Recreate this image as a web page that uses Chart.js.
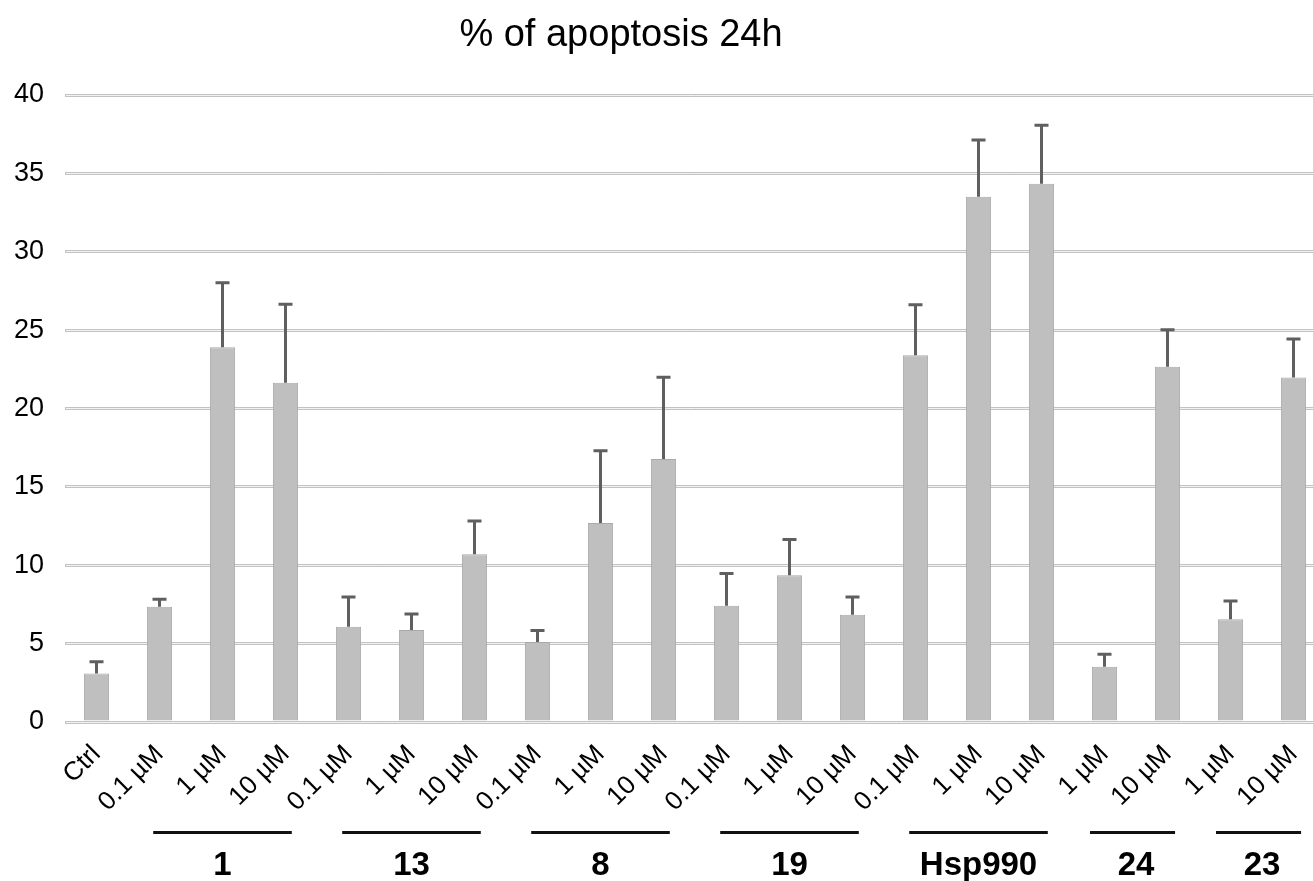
<!DOCTYPE html>
<html><head><meta charset="utf-8">
<script src="https://cdn.jsdelivr.net/npm/chart.js@4/dist/chart.umd.min.js"></script>
<style>
html,body{margin:0;padding:0;background:#fff;overflow:hidden;width:1313px;height:881px}
#wrap{position:absolute;left:0;top:0;width:1340px;height:881px}
</style>
</head><body><div id="wrap"><canvas id="c" width="1340" height="881"></canvas></div>
<script>
const chartTitle = '% of apoptosis 24h';
const categories = ['Ctrl',
  '0.1 µM', '1 µM', '10 µM',
  '0.1 µM', '1 µM', '10 µM',
  '0.1 µM', '1 µM', '10 µM',
  '0.1 µM', '1 µM', '10 µM',
  '0.1 µM', '1 µM', '10 µM',
  '1 µM', '10 µM',
  '1 µM', '10 µM'];
const meanValues = [3.1,
  7.36, 23.9, 21.65,
  6.08, 5.87, 10.7,
  5.1, 12.7, 16.78,
  7.42, 9.36, 6.85,
  23.39, 33.51, 34.34,
  3.53, 22.67,
  6.55, 21.97];
const errorValues = [0.75,
  0.47, 4.13, 5.0,
  1.89, 1.02, 2.12,
  0.73, 4.61, 5.22,
  2.06, 2.29, 1.12,
  3.23, 3.62, 3.73,
  0.79, 2.36,
  1.17, 2.46];
const groupNames = ['1', '13', '8', '19', 'Hsp990', '24', '23'];
const groupSizes = [3, 3, 3, 3, 3, 2, 2];
const yMin = 0, yMax = 40, yStep = 5;

const FONT = "'Liberation Sans', Arial, sans-serif";
Chart.defaults.font.family = FONT;
Chart.defaults.color = '#000';

const gridInner = {
  id: 'gridInner',
  beforeDatasetsDraw(chart) {
    const {ctx, chartArea: a, scales: {y}} = chart;
    ctx.save();
    ctx.strokeStyle = '#f2f2f2';
    ctx.lineWidth = 1;
    y.ticks.forEach(t => {
      const p = Math.round(y.getPixelForValue(t.value) - 1.5) + 1.5;
      ctx.beginPath();
      ctx.moveTo(a.left + 1, p);
      ctx.lineTo(a.right, p);
      ctx.stroke();
    });
    ctx.restore();
  }
};

const errorBars = {
  id: 'errorBars',
  afterDatasetsDraw(chart) {
    const {ctx, scales: {y}} = chart;
    const meta = chart.getDatasetMeta(0);
    ctx.save();
    ctx.strokeStyle = '#5f5f5f';
    ctx.lineWidth = 3;
    meta.data.forEach((bar, i) => {
      const x = bar.x;
      const y0 = y.getPixelForValue(meanValues[i]);
      const y1 = y.getPixelForValue(meanValues[i] + errorValues[i]);
      ctx.beginPath();
      ctx.moveTo(x, y0);
      ctx.lineTo(x, y1);
      ctx.moveTo(x - 7, y1);
      ctx.lineTo(x + 7, y1);
      ctx.stroke();
    });
    ctx.restore();
  }
};

const groupsAndTitle = {
  id: 'groupsAndTitle',
  afterDraw(chart) {
    const {ctx, scales: {x}} = chart;
    const cw = x.getPixelForValue(1) - x.getPixelForValue(0);
    ctx.save();
    ctx.fillStyle = '#000';
    ctx.font = '38px ' + FONT;
    ctx.textAlign = 'center';
    ctx.textBaseline = 'middle';
    ctx.fillText(chartTitle, 621, 36);

    let idx = 1;
    ctx.strokeStyle = '#111';
    ctx.lineWidth = 3;
    ctx.font = 'bold 33px ' + FONT;
    groupNames.forEach((name, g) => {
      const n = groupSizes[g];
      const x0 = x.getPixelForValue(idx);
      const x1 = x.getPixelForValue(idx + n - 1);
      const mid = (x0 + x1) / 2;
      const left = x0 - (n === 2 ? 0.23 : 0.1) * cw;
      const right = x1 + (n === 2 ? 0.12 : 0.1) * cw;
      ctx.beginPath();
      ctx.moveTo(left, 832.5);
      ctx.lineTo(right, 832.5);
      ctx.stroke();
      ctx.fillText(name, mid, 866);
      idx += n;
    });
    ctx.restore();
  }
};

new Chart(document.getElementById('c'), {
  type: 'bar',
  data: {
    labels: categories,
    datasets: [{
      data: meanValues,
      backgroundColor: '#bfbfbf',
      borderColor: '#a9a9a9',
      borderWidth: 1,
      barPercentage: 0.4,
      categoryPercentage: 1
    }]
  },
  options: {
    responsive: false,
    animation: false,
    devicePixelRatio: 1,
    layout: {padding: {top: 95, right: 15, left: 0, bottom: 0}},
    plugins: {legend: {display: false}, title: {display: false}, tooltip: {enabled: false}},
    scales: {
      x: {
        grid: {display: false, drawTicks: false},
        border: {display: false},
        ticks: {font: {size: 26}, color: '#000', minRotation: 45, maxRotation: 45, autoSkip: false, padding: 17},
        afterFit(s) { s.height = 159; }
      },
      y: {
        min: yMin, max: yMax,
        grid: {color: '#c3c3c3', lineWidth: 3, drawTicks: false},
        border: {display: false},
        ticks: {stepSize: yStep, font: {size: 27}, color: '#000', padding: 21},
        afterFit(s) { s.width = 65; }
      }
    }
  },
  plugins: [gridInner, errorBars, groupsAndTitle]
});
</script>
</body></html>
